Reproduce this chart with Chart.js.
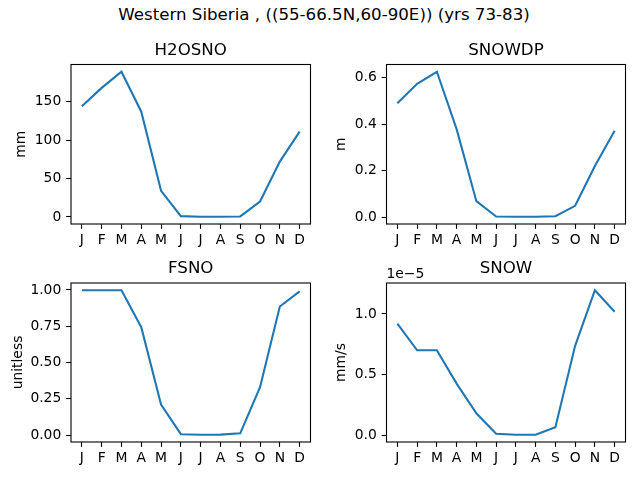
<!DOCTYPE html>
<html><head><meta charset="utf-8">
<script src="https://cdn.jsdelivr.net/npm/chart.js@4.4.1/dist/chart.umd.min.js"></script>
<style>
html,body{margin:0;padding:0;background:#fff;width:640px;height:480px;overflow:hidden;}
.p{position:absolute;}
#sup{position:absolute;left:0;width:648px;top:6.6px;text-align:center;font-family:"DejaVu Sans";font-size:16.67px;line-height:1;white-space:nowrap;color:#000;}
</style></head><body>
<div id="sup">Western Siberia , ((55-66.5N,60-90E)) (yrs 73-83)</div>
<div class="p" style="left:0;top:36px;width:320px;height:216px"><canvas id="c1"></canvas></div>
<div class="p" style="left:320px;top:36px;width:320px;height:216px"><canvas id="c2"></canvas></div>
<div class="p" style="left:0;top:254px;width:320px;height:226px"><canvas id="c3"></canvas></div>
<div class="p" style="left:320px;top:254px;width:320px;height:226px"><canvas id="c4"></canvas></div>
<script>
const months = ['J','F','M','A','M','J','J','A','S','O','N','D'];
const h2osno = [144, 168, 189, 137, 34, 1, 0.2, 0.2, 0.6, 20, 72, 111];
const snowdp = [0.49, 0.574, 0.626, 0.379, 0.069, 0.003, 0.002, 0.002, 0.004, 0.049, 0.22, 0.372];
const fsno = [0.998, 0.998, 0.998, 0.743, 0.21, 0.006, 0.002, 0.003, 0.012, 0.33, 0.886, 0.99];
const snow = [9.2e-6, 7.0e-6, 7.0e-6, 4.25e-6, 1.8e-6, 0.12e-6, 0.03e-6, 0.03e-6, 0.66e-6, 7.37e-6, 11.96e-6, 10.18e-6];
const h2osnoTicks = [0, 50, 100, 150];
const snowdpTicks = [0, 0.2, 0.4, 0.6];
const fsnoTicks = [0, 0.25, 0.5, 0.75, 1.0];
const snowTicks = [0, 0.5e-5, 1.0e-5];
const titles = ['H2OSNO', 'SNOWDP', 'FSNO', 'SNOW'];
const units = ['mm', 'm', 'unitless', 'mm/s'];

const FAM = 'DejaVu Sans';
function makeChart(id, values, yTicks, fmt, title, unit, g) {
  const lo = Math.min(...values), hi = Math.max(...values), m = 0.05 * (hi - lo);
  const tickFont = {family: FAM, size: 13.89};
  const gridCfg = {drawOnChartArea: false, drawTicks: true, tickLength: 4.86, tickColor: '#000', tickWidth: 1.1};
  const frame = {
    id: 'frame',
    afterDatasetsDraw(chart) {
      const a = chart.chartArea, c = chart.ctx;
      c.save();
      c.strokeStyle = '#000'; c.lineWidth = 1.1;
      c.strokeRect(a.left, a.top, a.right - a.left, a.bottom - a.top);
      if (g.offsetText) {
        c.fillStyle = '#000'; c.font = '13.89px "DejaVu Sans"';
        c.textAlign = 'left'; c.textBaseline = 'alphabetic';
        c.fillText(g.offsetText, a.left, a.top - 5.5);
      }
      c.restore();
    }
  };
  new Chart(document.getElementById(id), {
    type: 'line',
    data: {datasets: [{data: values.map((v, i) => ({x: i, y: v})), borderColor: '#1f77b4', borderWidth: 2.08, pointRadius: 0, tension: 0, fill: false}]},
    options: {
      responsive: true, maintainAspectRatio: false, animation: false,
      layout: {padding: {left: 0, right: g.R, top: 0, bottom: 0}},
      plugins: {
        legend: {display: false}, tooltip: {enabled: false},
        title: {display: true, fullSize: false, text: title, color: '#000', font: {family: FAM, size: 16.67, weight: 'normal', lineHeight: 1.2}, padding: {top: g.tp, bottom: 4.07}}
      },
      scales: {
        x: {
          type: 'linear', min: -0.55, max: 11.55,
          afterBuildTicks: ax => { ax.ticks = months.map((mm, i) => ({value: i})); },
          afterFit: ax => { ax.height = g.Hx; },
          ticks: {autoSkip: false, maxRotation: 0, minRotation: 0, color: '#000', font: tickFont, padding: 3, callback: (v, i) => months[i]},
          grid: gridCfg, border: {display: false}
        },
        y: {
          type: 'linear', min: lo - m, max: hi + m,
          afterBuildTicks: ax => { ax.ticks = yTicks.map(v => ({value: v})); },
          afterFit: ax => { ax.width = g.Wy; },
          ticks: {color: '#000', font: tickFont, padding: 4.86, callback: v => fmt(v)},
          title: {display: true, text: unit, color: '#000', font: {family: FAM, size: 13.89, lineHeight: 1.2}, padding: {top: g.yp, bottom: 0}},
          grid: gridCfg, border: {display: false}
        }
      }
    },
    plugins: [frame]
  });
}

makeChart('c1', h2osno, h2osnoTicks, v => String(Math.round(v)), titles[0], units[0], {Wy: 71, R: 9.5, tp: 4.43, Hx: 28, yp: 13.5});
makeChart('c2', snowdp, snowdpTicks, v => v.toFixed(1), titles[1], units[1], {Wy: 66.5, R: 14.5, tp: 4.43, Hx: 28, yp: 12.9});
makeChart('c3', fsno, fsnoTicks, v => v.toFixed(2), titles[2], units[2], {Wy: 71, R: 9.5, tp: 4.93, Hx: 38, yp: 10.2});
makeChart('c4', snow, snowTicks, v => (v / 1e-5).toFixed(1), titles[3], units[3], {Wy: 66.5, R: 14.5, tp: 4.93, Hx: 38, yp: 13.2, offsetText: '1e\u22125'});
</script>
</body></html>
